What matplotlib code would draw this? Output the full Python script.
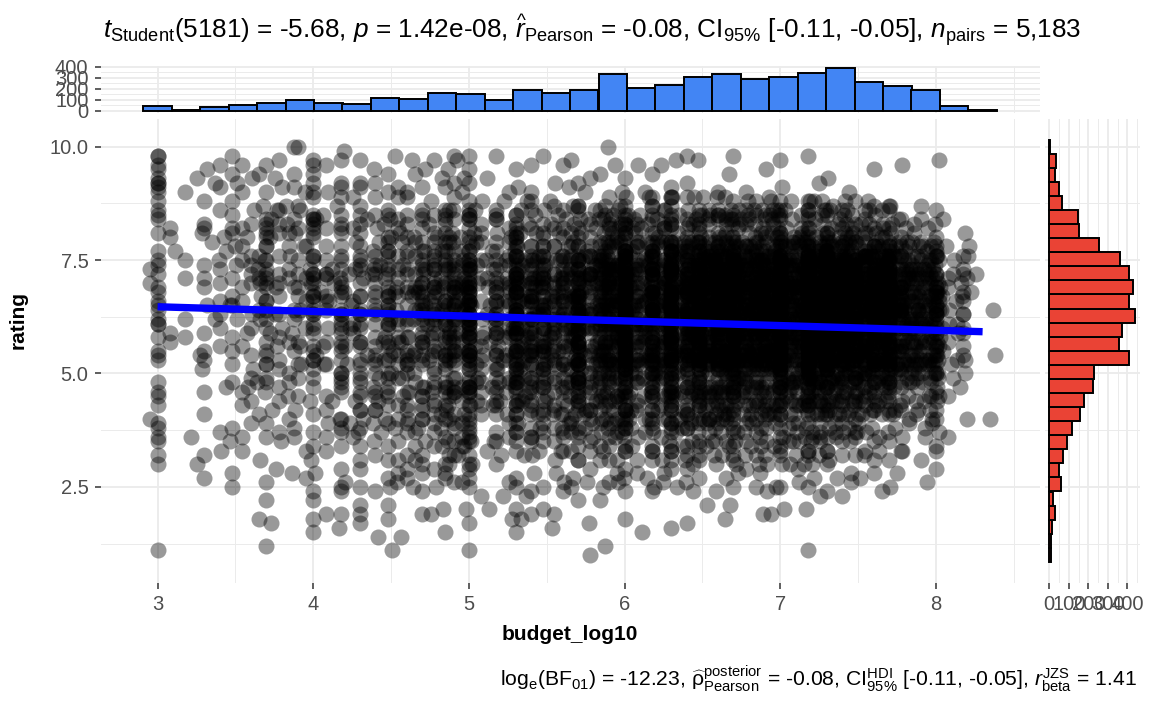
import numpy as np
import matplotlib
matplotlib.use("Agg")
import matplotlib.pyplot as plt

# ---------------- data ----------------
budget_bin_centers = [3.000, 3.183, 3.366, 3.548, 3.731, 3.914, 4.097, 4.279, 4.462, 4.645,
                      4.828, 5.010, 5.193, 5.376, 5.559, 5.741, 5.924, 6.107, 6.290, 6.472,
                      6.655, 6.838, 7.021, 7.203, 7.386, 7.569, 7.752, 7.934, 8.117, 8.300]
budget_counts = [47, 8, 34, 50, 74, 96, 74, 62, 115, 108, 161, 149, 93, 189, 164, 192,
                 338, 202, 233, 310, 332, 285, 307, 341, 388, 264, 226, 186, 40, 6]
budget_bin_width = 0.1828

rating_bin_centers = [1.000, 1.310, 1.621, 1.931, 2.241, 2.552, 2.862, 3.172, 3.483, 3.793,
                      4.103, 4.414, 4.724, 5.034, 5.345, 5.655, 5.966, 6.276, 6.586, 6.897,
                      7.207, 7.517, 7.828, 8.138, 8.448, 8.759, 9.069, 9.379, 9.690, 10.000]
rating_counts = [7, 7, 14, 28, 17, 59, 48, 72, 90, 117, 155, 179, 224, 231, 407, 359, 372,
                 441, 410, 431, 407, 365, 255, 152, 148, 66, 52, 31, 34, 5]
rating_bin_width = 0.3103

# scatter: number of films per (budget bin, rating band); bands [1,2),[2,3),...,[9,10]
rating_band_low = [1, 2, 3, 4, 5, 6, 7, 8, 9]
cell_counts = [
    [1, 0, 6, 5, 6, 8, 6, 7, 9],
    [0, 0, 2, 0, 2, 1, 3, 0, 2],
    [0, 1, 3, 3, 5, 6, 7, 6, 4],
    [0, 2, 5, 6, 7, 8, 9, 8, 6],
    [3, 3, 5, 8, 10, 14, 15, 12, 6],
    [2, 4, 6, 10, 14, 18, 18, 16, 10],
    [3, 4, 6, 9, 12, 15, 13, 9, 5],
    [2, 4, 6, 8, 10, 12, 10, 7, 4],
    [3, 6, 10, 16, 20, 24, 20, 12, 6],
    [2, 5, 10, 16, 20, 23, 19, 10, 5],
    [2, 6, 14, 24, 30, 36, 30, 16, 6],
    [2, 6, 14, 22, 28, 34, 26, 14, 6],
    [1, 3, 8, 14, 18, 22, 18, 8, 3],
    [3, 6, 14, 28, 38, 46, 38, 16, 4],
    [2, 5, 12, 24, 34, 40, 32, 14, 4],
    [2, 5, 14, 30, 40, 48, 38, 15, 4],
    [2, 8, 22, 42, 72, 88, 76, 28, 5],
    [1, 4, 12, 26, 44, 54, 46, 16, 3],
    [1, 4, 14, 29, 52, 64, 52, 18, 3],
    [1, 5, 18, 38, 70, 86, 72, 22, 3],
    [1, 5, 18, 40, 76, 92, 78, 24, 3],
    [1, 4, 16, 35, 66, 80, 65, 20, 2],
    [1, 4, 16, 37, 72, 88, 70, 22, 2],
    [1, 5, 18, 40, 80, 98, 80, 22, 2],
    [0, 5, 18, 44, 92, 116, 93, 25, 2],
    [0, 3, 10, 29, 64, 82, 64, 16, 1],
    [0, 2, 8, 24, 56, 72, 55, 12, 1],
    [0, 2, 7, 21, 48, 58, 44, 8, 1],
    [0, 0, 1, 4, 10, 14, 10, 2, 0],
    [0, 0, 0, 1, 1, 2, 2, 0, 0],
]
# share of films per budget bin whose budget is a round number (visible columns)
round_share = [1.0] + [0.7] * 11 + [0.6] * 4 + [0.5] * 4 + [0.35] * 10
# round budgets: mantissas and how common each is
budget_mantissas = [1, 1.2, 1.5, 1.8, 2, 2.5, 3, 3.5, 4, 4.5, 5, 6, 7, 7.5, 8, 9]
mantissa_weights = [8, 1, 3, 1, 5, 3, 4, 2, 3, 1, 5, 2, 2, 1, 2, 1]

fit_budget = [3.0, 8.3]
fit_rating = [6.47, 5.92]

x_ticks = [3, 4, 5, 6, 7, 8]
x_ticklabels = ["3", "4", "5", "6", "7", "8"]
y_ticks = [2.5, 5.0, 7.5, 10.0]
y_ticklabels = ["2.5", "5.0", "7.5", "10.0"]
top_ticks = [0, 100, 200, 300, 400]
right_ticks = [0, 100, 200, 300, 400]

subtitle = (r"$\mathit{t}_{\mathrm{Student}}$(5181) = -5.68, $\mathit{p}$ = 1.42e-08, "
            r"$\widehat{\mathit{r}}_{\mathrm{Pearson}}$ = -0.08, CI$_{\mathrm{95\%}}$ [-0.11, -0.05], "
            r"$\mathit{n}_{\mathrm{pairs}}$ = 5,183")
caption = (r"log$_{\mathrm{e}}$(BF$_{\mathrm{01}}$) = -12.23, "
           r"$\widehat{\mathrm{\rho}}^{\mathrm{posterior}}_{\mathrm{Pearson}}$ = -0.08, "
           r"CI$^{\mathrm{HDI}}_{\mathrm{95\%}}$ [-0.11, -0.05], "
           r"$\mathit{r}^{\mathrm{JZS}}_{\mathrm{beta}}$ = 1.41")

# ---------------- style ----------------
plt.rcParams["font.family"] = ["Liberation Sans", "DejaVu Sans"]
plt.rcParams["mathtext.fontset"] = "custom"
plt.rcParams["mathtext.rm"] = "Liberation Sans"
plt.rcParams["mathtext.it"] = "Liberation Sans:italic"
plt.rcParams["mathtext.bf"] = "Liberation Sans:bold"

FS = 14.5
TICK_C = "#4D4D4D"
GRID_C = "#EBEBEB"

# ---------------- expand cell counts into points ----------------
cand_vals, cand_w = [], []
for k in range(2, 10):
    for m, w in zip(budget_mantissas, mantissa_weights):
        cand_vals.append(np.log10(m * 10 ** k))
        cand_w.append(w)
cand_vals = np.array(cand_vals)
cand_w = np.array(cand_w, dtype=float)

# within a rating band, ratings (0.1 steps) follow the rating histogram's shape
band_vals, band_cw = [], []
for base in rating_band_low:
    n_steps = 11 if base == 9 else 10
    rv = np.round(base + 0.1 * np.arange(n_steps), 1)
    idx = np.clip(np.round((rv - rating_bin_centers[0]) / rating_bin_width).astype(int),
                  0, len(rating_counts) - 1)
    wts = np.array([rating_counts[t] for t in idx], dtype=float) + 1.0
    band_vals.append(rv)
    band_cw.append(np.cumsum(wts) / wts.sum())

a1, a2, a3 = 0.7548776662, 0.5698402910, 0.6180339887
px, py = [], []
for i, c in enumerate(budget_bin_centers):
    lo, hi = c - budget_bin_width / 2, c + budget_bin_width / 2
    sel = (cand_vals >= lo) & (cand_vals < hi)
    vals = cand_vals[sel]
    cw = np.cumsum(cand_w[sel])
    cw = cw / cw[-1]
    for b, n in enumerate(cell_counts[i]):
        rv, rcw = band_vals[b], band_cw[b]
        for j in range(n):
            u = (0.5 + (j + 1) * a1 + i * 0.31 + b * 0.17) % 1.0
            v = (0.5 + (j + 1) * a2 + i * 0.13 + b * 0.41) % 1.0
            w = (0.25 + (j + 1) * a3 + i * 0.23 + b * 0.07) % 1.0
            if w < round_share[i]:
                px.append(vals[min(np.searchsorted(cw, u), len(vals) - 1)])
            else:
                px.append(lo + u * budget_bin_width)
            py.append(rv[min(np.searchsorted(rcw, v), len(rv) - 1)])

# ---------------- layout ----------------
W, H = 1152, 711
fig = plt.figure(figsize=(W / 100, H / 100), dpi=100)


def rect(l, t, r, b):
    return [l / W, 1 - b / H, (r - l) / W, (b - t) / H]


ax = fig.add_axes(rect(100.7, 118.5, 1039.5, 583.0))
axt = fig.add_axes(rect(100.7, 65.9, 1039.5, 112.8))
axr = fig.add_axes(rect(1045.0, 118.5, 1139.6, 583.0))

xlo = budget_bin_centers[0] - budget_bin_width / 2
xhi = budget_bin_centers[-1] + budget_bin_width / 2
xpad = 0.05 * (xhi - xlo)
ylo = rating_bin_centers[0] - rating_bin_width / 2
yhi = rating_bin_centers[-1] + rating_bin_width / 2
ypad = 0.05 * (yhi - ylo)
xlim = (xlo - xpad, xhi + xpad)
ylim = (ylo - ypad, yhi + ypad)


def style(a):
    for s in a.spines.values():
        s.set_visible(False)
    a.set_axisbelow(True)
    a.grid(True, which="major", color=GRID_C, lw=1.3)
    a.grid(True, which="minor", color=GRID_C, lw=0.7)
    a.tick_params(which="major", length=4.3, width=1.1, color="#333333",
                  labelcolor=TICK_C, labelsize=FS, pad=4.5)
    a.tick_params(which="minor", length=0)


# main scatter
style(ax)
ax.scatter(px, py, s=133, c="black", alpha=0.4, linewidths=0, zorder=2)
ax.plot(fit_budget, fit_rating, color="#0000FF", lw=5.3, solid_capstyle="butt", zorder=3)
ax.set_xlim(xlim)
ax.set_ylim(ylim)
ax.set_xticks(x_ticks)
ax.set_xticklabels(x_ticklabels)
ax.set_xticks([t + 0.5 for t in x_ticks], minor=True)
ax.set_yticks(y_ticks)
ax.set_yticklabels(y_ticklabels)
ax.set_yticks([1.25, 3.75, 6.25, 8.75], minor=True)

# top histogram
style(axt)
axt.bar(budget_bin_centers, budget_counts, width=budget_bin_width, color="#4285F4",
        edgecolor="black", linewidth=1.4, zorder=2)
cmax = max(budget_counts)
axt.set_xlim(xlim)
axt.set_ylim(-0.05 * cmax, 1.05 * cmax)
axt.set_xticks(x_ticks)
axt.set_xticks([t + 0.5 for t in x_ticks], minor=True)
axt.tick_params(axis="x", which="both", length=0, labelbottom=False)
axt.set_yticks(top_ticks)
axt.set_yticklabels([str(t) for t in top_ticks])
axt.set_yticks([50, 150, 250, 350], minor=True)

# right histogram
style(axr)
axr.barh(rating_bin_centers, rating_counts, height=rating_bin_width, color="#EA4335",
         edgecolor="black", linewidth=1.4, zorder=2)
rmax = max(rating_counts)
axr.set_ylim(ylim)
axr.set_xlim(-0.05 * rmax, 1.05 * rmax)
axr.set_yticks(y_ticks)
axr.set_yticks([1.25, 3.75, 6.25, 8.75], minor=True)
axr.tick_params(axis="y", which="both", length=0, labelleft=False)
axr.set_xticks(right_ticks)
axr.set_xticklabels([str(t) for t in right_ticks])
axr.set_xticks([50, 150, 250, 350, 450], minor=True)

# texts
fig.text(103 / W, 1 - 39 / H, subtitle, ha="left", va="baseline", fontsize=18.8, color="black")
fig.text(1137 / W, 1 - 686 / H, caption, ha="right", va="baseline", fontsize=15.2, color="black")
fig.text(570 / W, 1 - 640 / H, "budget_log10", ha="center", va="baseline",
         fontsize=15, fontweight="bold")
fig.text(18 / W, 1 - 320 / H, "rating", ha="center", va="center", rotation=90,
         fontsize=15, fontweight="bold")

fig.savefig("out.png", dpi=100)
